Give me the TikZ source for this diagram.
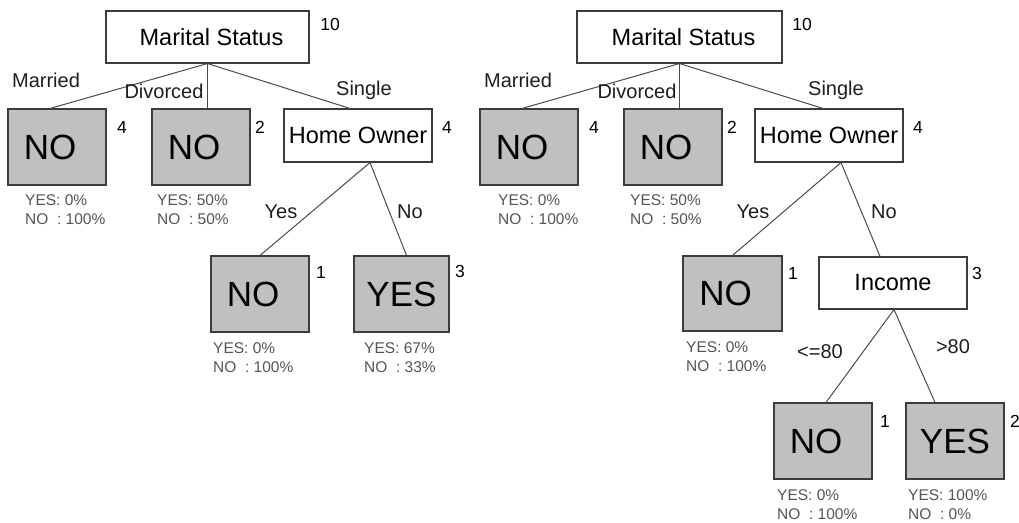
\documentclass[tikz,border=0pt]{standalone}
\usepackage{fontspec}
\setmainfont{Liberation Sans}
\usetikzlibrary{calc}
\definecolor{leafc}{RGB}{192,192,192}
\definecolor{boxc}{RGB}{60,60,60}
\definecolor{edgec}{RGB}{75,75,75}
\definecolor{statc}{RGB}{85,85,85}
\definecolor{labc}{RGB}{30,30,30}
\newcommand{\noleaf}{NO\kern14pt\relax}
\newcommand{\mstext}{\kern8pt Marital Status}
\begin{document}
\begin{tikzpicture}[x=1pt,y=-1pt,
  split/.style={draw=boxc, fill=white, line width=1.1pt, inner sep=0pt,
    minimum width=148, minimum height=53, font=\fontsize{23.5}{28}\selectfont},
  leaf/.style={draw=boxc, fill=leafc, line width=1.1pt, inner sep=0pt,
    minimum width=98, minimum height=76, font=\fontsize{35}{40}\selectfont},
  edge/.style={draw=edgec, line width=1pt},
  elab/.style={anchor=base, inner sep=0pt, text=labc, font=\fontsize{20}{24}\selectfont},
  cnt/.style={anchor=base, inner sep=0pt, font=\fontsize{17.5}{20}\selectfont},
  stat/.style={anchor=north west, inner sep=0pt, align=left, text=statc,
    font=\fontsize{15.5}{19}\selectfont}]
\useasboundingbox (0,0) rectangle (1019,522);

% ---------------- left tree ----------------
\node[split, minimum width=203, minimum height=52] (ms1) at (207.5,37) {\mstext};
\node[leaf] (n1a) at (57,147) {\noleaf};
\node[leaf] (n1b) at (201,147) {\noleaf};
\node[split] (ho1) at (358,135.5) {Home Owner};
\node[leaf] (n1c) at (260,294) {\noleaf};
\node[leaf, minimum width=95] (y1) at (401.5,294) {YES};

\draw[edge] (ms1.south) -- ($(n1a.north)+(-7,0)$);
\draw[edge] (ms1.south) -- (ms1.south |- n1b.north);
\draw[edge] (ms1.south) -- ($(ho1.north)+(-8,0)$);
\coordinate (ho1b) at ($(ho1.south)+(12,0)$);
\draw[edge] (ho1b) -- (n1c.north);
\draw[edge] (ho1b) -- ($(y1.north)+(5,0)$);

\node[elab] (l1m) at (46,87) {Married};
\node[elab] (l1d) at (164,98.5) {Divorced};
\node[elab] (l1s) at (364,95) {Single};
\node[elab] (l1y) at (281,218) {Yes};
\node[elab] (l1n) at (410,218) {No};

\node[cnt] (c1ms) at (330,30) {10};
\node[cnt] (c1a) at (122,133) {4};
\node[cnt] (c1b) at (260,133) {2};
\node[cnt] (c1ho) at (447,133) {4};
\node[cnt] (c1c) at (321,278) {1};
\node[cnt] (c1y) at (460,277) {3};

\node[stat] (s1a) at (25,194) {YES: 0\%\\NO\ \ : 100\%};
\node[stat] (s1b) at (157,194) {YES: 50\%\\NO\ \ : 50\%};
\node[stat] (s1c) at (213,342) {YES: 0\%\\NO\ \ : 100\%};
\node[stat] (s1y) at (364,342) {YES: 67\%\\NO\ \ : 33\%};

% ---------------- right tree ----------------
\node[split, minimum width=205, minimum height=52] (ms2) at (679.5,37) {\mstext};
\node[leaf] (n2a) at (529,147) {\noleaf};
\node[leaf] (n2b) at (673,147) {\noleaf};
\node[split] (ho2) at (829,135.5) {Home Owner};
\node[leaf, minimum width=99, minimum height=75] (n2c) at (732.5,293.5) {\noleaf};
\node[split, minimum height=52] (inc) at (893,283) {Income};
\node[leaf] (n2d) at (823,441) {\noleaf};
\node[leaf] (y2) at (955,441) {YES};

\draw[edge] (ms2.south) -- ($(n2a.north)+(-7,0)$);
\draw[edge] (ms2.south) -- (ms2.south |- n2b.north);
\draw[edge] (ms2.south) -- ($(ho2.north)+(-6,0)$);
\coordinate (ho2b) at ($(ho2.south)+(12,0)$);
\draw[edge] (ho2b) -- (n2c.north);
\draw[edge] (ho2b) -- ($(inc.north)+(-13,0)$);
\coordinate (incb) at ($(inc.south)+(1,0)$);
\draw[edge] (incb) -- ($(n2d.north)+(3,0)$);
\draw[edge] (incb) -- ($(y2.north)+(-20,0)$);

\node[elab] (l2m) at (518,87) {Married};
\node[elab] (l2d) at (637,98.5) {Divorced};
\node[elab] (l2s) at (836,95) {Single};
\node[elab] (l2y) at (753,218) {Yes};
\node[elab] (l2n) at (884,218) {No};
\node[elab] (l2le) at (820,358) {<=80};
\node[elab] (l2gt) at (953,353) {>80};

\node[cnt] (c2ms) at (802,30) {10};
\node[cnt] (c2a) at (594,133) {4};
\node[cnt] (c2b) at (732,133) {2};
\node[cnt] (c2ho) at (918,133) {4};
\node[cnt] (c2c) at (793,279) {1};
\node[cnt] (c2inc) at (977,279) {3};
\node[cnt] (c2d) at (885,427) {1};
\node[cnt] (c2y) at (1015,427) {2};

\node[stat] (s2a) at (498,194) {YES: 0\%\\NO\ \ : 100\%};
\node[stat] (s2b) at (630,194) {YES: 50\%\\NO\ \ : 50\%};
\node[stat] (s2c) at (686,341) {YES: 0\%\\NO\ \ : 100\%};
\node[stat] (s2d) at (777,489) {YES: 0\%\\NO\ \ : 100\%};
\node[stat] (s2y) at (908,489) {YES: 100\%\\NO\ \ : 0\%};
\end{tikzpicture}
\end{document}
